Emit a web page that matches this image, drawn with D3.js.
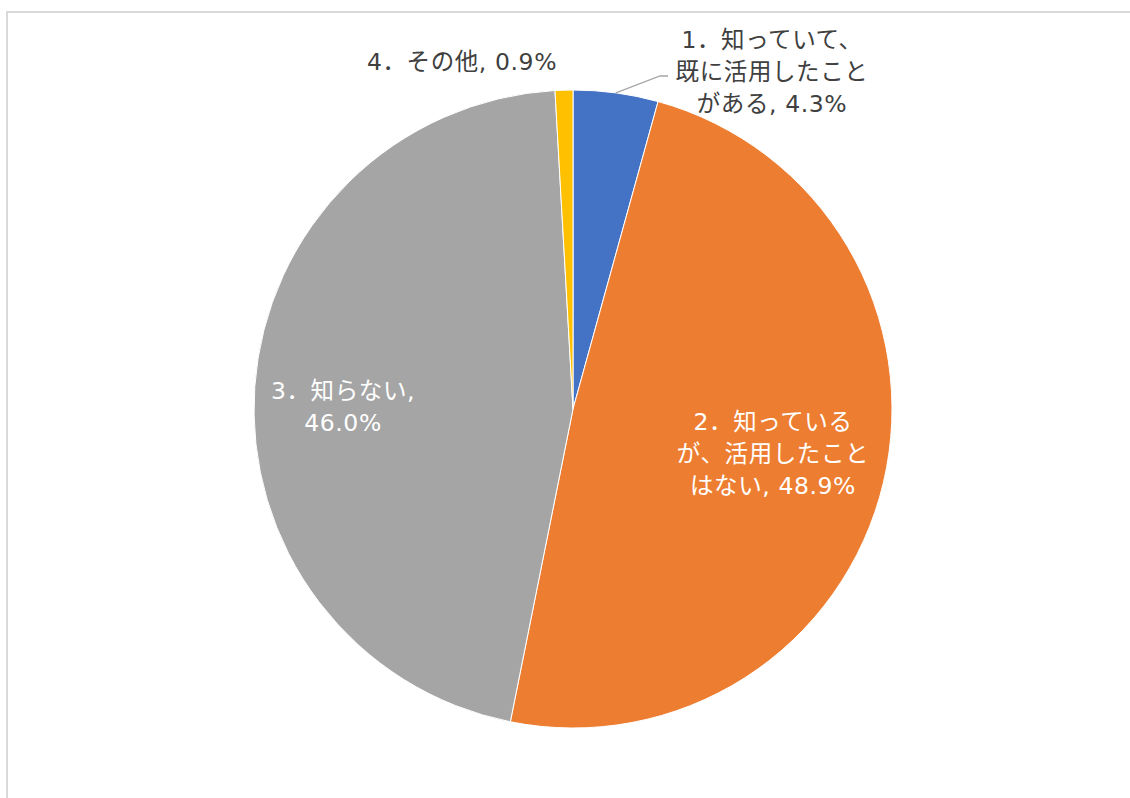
<!DOCTYPE html>
<html>
<head>
<meta charset="utf-8">
<script src="https://cdn.jsdelivr.net/npm/d3@7"></script>
<style>
  html, body { margin: 0; padding: 0; background: #ffffff; }
  svg { display: block; }
</style>
</head>
<body>
<svg id="chart" width="1130" height="798"></svg>
<script>
// Survey responses (percent)
const categories = [
  "1．知っていて、既に活用したことがある",
  "2．知っているが、活用したことはない",
  "3．知らない",
  "4．その他"
];
const values = [4.3, 48.9, 46.0, 0.9];
const colors = ["#4472C4", "#ED7D31", "#A5A5A5", "#FFC000"];

// Label text, split into lines as displayed
const labelLines = [
  ["1．知っていて、", "既に活用したこと", "がある, 4.3%"],
  ["2．知っている", "が、活用したこと", "はない, 48.9%"],
  ["3．知らない,", "46.0%"],
  ["4．その他, 0.9%"]
];
const labelColors = ["#404040", "#ffffff", "#ffffff", "#404040"];
const labelPos = [[772, 40], [773, 422], [343, 391], [462, 62]];

const svg = d3.select("#chart");
const cx = 573, cy = 409, r = 319;
const fontFamily = "'DejaVu Sans', 'Noto Sans CJK JP', sans-serif";

// Chart area frame
svg.append("rect")
  .attr("x", 7).attr("y", 12)
  .attr("width", 1140).attr("height", 800)
  .attr("fill", "none")
  .attr("stroke", "#d9d9d9")
  .attr("stroke-width", 2);

const data = categories.map((c, i) => ({ name: c, value: values[i], color: colors[i] }));

const pie = d3.pie().sort(null).value(d => d.value);
const arcs = pie(data);
const arc = d3.arc().innerRadius(0).outerRadius(r);

const g = svg.append("g").attr("transform", `translate(${cx},${cy})`);

g.selectAll("path.slice")
  .data(arcs)
  .join("path")
  .attr("class", "slice")
  .attr("d", arc)
  .attr("fill", d => d.data.color)
  .attr("stroke", "#ffffff")
  .attr("stroke-width", 1);

// Leader line for the small first slice
const a0 = arcs[0];
const mid = (a0.startAngle + a0.endAngle) / 2;
const p0 = [cx + r * Math.sin(mid), cy - r * Math.cos(mid)];
svg.append("polyline")
  .attr("points", [p0, [660, 76], [668, 76]].map(p => p.join(",")).join(" "))
  .attr("fill", "none")
  .attr("stroke", "#a6a6a6")
  .attr("stroke-width", 1.3);

// Data labels
const lineH = 32;
labelLines.forEach((lines, i) => {
  const t = svg.append("text")
    .attr("text-anchor", "middle")
    .attr("font-family", fontFamily)
    .attr("font-size", 23.5)
    .attr("letter-spacing", 0.6)
    .attr("fill", labelColors[i]);
  lines.forEach((ln, j) => {
    t.append("tspan")
      .attr("x", labelPos[i][0])
      .attr("y", labelPos[i][1] + j * lineH)
      .attr("dominant-baseline", "central")
      .text(ln);
  });
});
</script>
</body>
</html>
